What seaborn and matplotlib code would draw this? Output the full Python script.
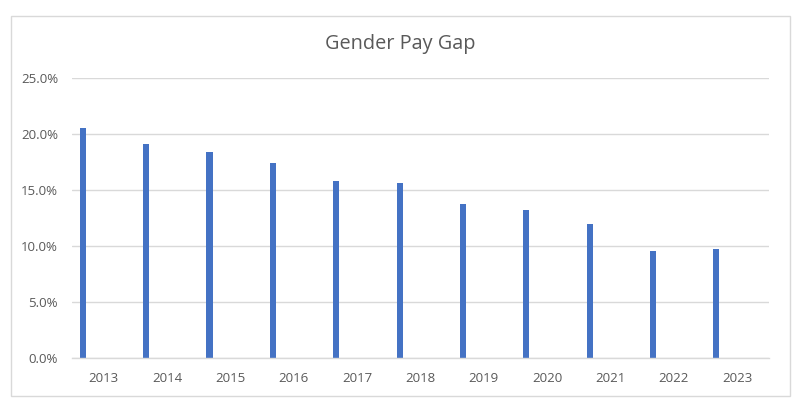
import pandas as pd
import matplotlib.pyplot as plt
import seaborn as sns
from matplotlib.patches import Rectangle
from matplotlib.ticker import PercentFormatter

years = [2013, 2014, 2015, 2016, 2017, 2018, 2019, 2020, 2021, 2022, 2023]
pay_gap = [20.5, 19.1, 18.4, 17.4, 15.8, 15.6, 13.7, 13.2, 11.9, 9.5, 9.7]
y_ticks = [0, 5, 10, 15, 20, 25]

W, H = 806, 415


def build_frame():
    df = pd.DataFrame({'Year': years, 'Gap': pay_gap})
    # Excel draws the bar in the left part of each category slot
    df['pos'] = df['Year'] - 0.33
    return df


def draw(df):
    sns.set_theme(style='white')
    plt.rcParams['font.family'] = ['Open Sans', 'DejaVu Sans']

    fig = plt.figure(figsize=(W / 100, H / 100), dpi=100)
    ax = fig.add_axes([72 / W, 1 - 357.7 / H, (769 - 72) / W, 280 / H])

    sns.barplot(data=df, x='pos', y='Gap', native_scale=True, width=0.095,
                color='#4472C4', saturation=1, linewidth=0, ax=ax)

    ax.set_xlim(years[0] - 0.5, years[-1] + 0.5)
    ax.set_ylim(0, 25)
    ax.set_xticks(years)
    ax.set_xticklabels([str(y) for y in years])
    ax.set_yticks(y_ticks)
    ax.yaxis.set_major_formatter(PercentFormatter(decimals=1))
    ax.tick_params(axis='both', length=0, colors='#595959', labelsize=9.5)
    ax.tick_params(axis='x', pad=10)
    ax.tick_params(axis='y', pad=10)
    ax.set_xlabel('')
    ax.set_ylabel('')

    ax.grid(axis='y', color='#d9d9d9', linewidth=1)
    ax.set_axisbelow(True)
    for side in ['top', 'right', 'left']:
        ax.spines[side].set_visible(False)
    ax.spines['bottom'].set_color('#d9d9d9')
    ax.spines['bottom'].set_linewidth(1)

    fig.text(400 / W, 1 - 44 / H, 'Gender Pay Gap', ha='center', va='center',
             fontsize=14.3, color='#595959')

    # chart area border
    fig.patches.append(Rectangle((11 / W, 1 - 396 / H), (790 - 11) / W, (396 - 16) / H,
                                 transform=fig.transFigure, fill=False,
                                 edgecolor='#d9d9d9', linewidth=1))
    fig.savefig('out.png', dpi=100, facecolor='white')


if __name__ == "__main__":
    df = build_frame()
    draw(df)
